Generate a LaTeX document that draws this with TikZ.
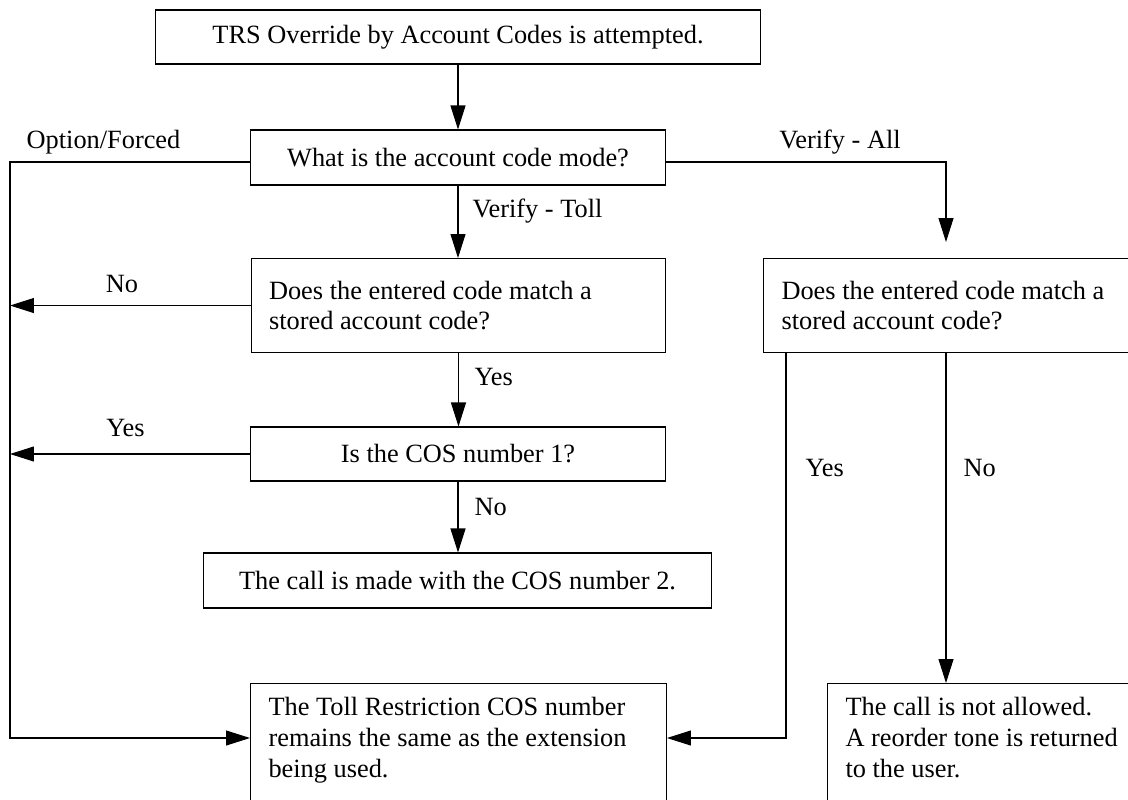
\documentclass[tikz,border=0pt]{standalone}
\usepackage{fontspec}
\setmainfont{Liberation Serif}
\usetikzlibrary{arrows.meta}

\begin{document}
\begin{tikzpicture}[x=0.02cm, y=-0.02cm, line width=0.6pt,
    font=\fontsize{15}{17.5}\selectfont,
    arr/.style={-{Triangle[length=0.48cm, width=0.3cm]}},
    cbox/.style={draw, align=center, inner sep=0pt, minimum height=1.08cm},
    lbox/.style={draw, align=flush left, inner xsep=0.36cm, inner ysep=0pt, anchor=north west},
    lbl/.style={inner sep=0pt}]

    \useasboundingbox (0,0) rectangle (1128,799);
    \clip (0,0) rectangle (1128,799);

    \coordinate (lft) at ( 10, 162);
    \coordinate (rgt) at (946, 162);

    \node [cbox, minimum width=12.12cm] (start) at (458, 37) {TRS Override by Account Codes is attempted.};
    \node [cbox, minimum width=8.3cm, minimum height=1.1cm] (mode) at (458, 157.5) {What is the account code mode?};
    \node [lbox, text width=7.58cm, minimum height=1.88cm] (tollmatch) at (250.5, 258) {Does the entered code match a\\stored account code?};
    \node [cbox, minimum width=8.3cm] (cos) at (458, 454) {Is the COS number 1?};
    \node [cbox, minimum width=10.18cm, minimum height=1.1cm] (cos2) at (457.5, 580.5) {The call is made with the COS number 2.};
    \node [lbox, text width=7.6cm, inner ysep=0.28cm, text depth=3cm] (same) at (250, 683) {The Toll Restriction COS number\\remains the same as the extension\\being used.};
    \node [lbox, text width=7.02cm, minimum height=1.88cm] (allmatch) at (763, 258) {Does the entered code match a\\stored account code?};
    \node [lbox, text width=5.74cm, inner ysep=0.28cm, text depth=3cm] (deny) at (827, 683) {The call is not allowed.\\A reorder tone is returned\\to the user.};

    \draw [arr] (start.south) -- (start.south |- mode.north);
    \draw [arr] (mode.south) -- (mode.south |- tollmatch.north);
    \draw [arr] (tollmatch.south) -- (tollmatch.south |- cos.north);
    \draw [arr] (cos.south) -- (cos.south |- cos2.north);

    \draw [arr] (mode.west |- lft) -- (lft) |- ([yshift=-1.1cm]same.north west);
    \draw [arr] (tollmatch.west) -- (tollmatch.west -| lft);
    \draw [arr] (cos.west) -- (cos.west -| lft);

    \draw [arr, shorten >=0.32cm] (mode.east |- rgt) -- (rgt) -- (rgt |- allmatch.north);
    \draw [arr] (allmatch.south -| rgt) -- (rgt |- deny.north);
    \draw [arr] ([xshift=0.46cm]allmatch.south west) |- ([yshift=-1.1cm]same.north east);

    \node [lbl, anchor=base] at (103.5, 148) {Option/Forced};
    \node [lbl, anchor=base] at (840, 148) {Verify - All};
    \node [lbl, anchor=base west] at (472, 217) {Verify - Toll};
    \node [lbl, anchor=base west] at (474, 385) {Yes};
    \node [lbl, anchor=base west] at (474, 515) {No};
    \node [lbl, anchor=base] at (122, 292) {No};
    \node [lbl, anchor=base] at (125.5, 436) {Yes};
    \node [lbl, anchor=base west] at (805, 476) {Yes};
    \node [lbl, anchor=base west] at (963, 476) {No};

\end{tikzpicture}
\end{document}
